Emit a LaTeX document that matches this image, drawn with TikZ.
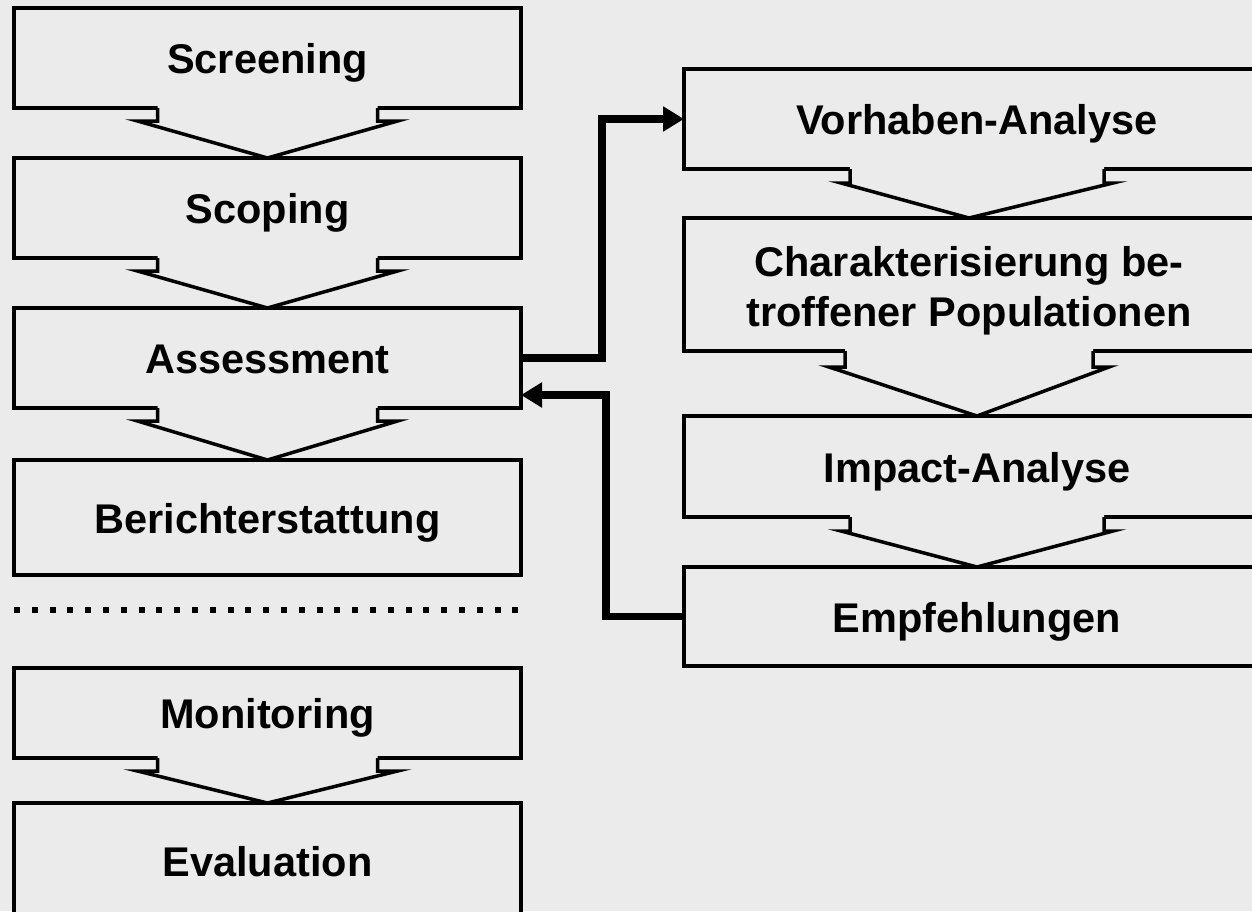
\documentclass[tikz,border=0pt]{standalone}
\usepackage{fontspec}
\setmainfont{Liberation Sans}
\usetikzlibrary{arrows.meta}
\definecolor{bgGray}{RGB}{235,235,235}

\tikzset{
  stage/.style={draw, line width=3.5pt, fill=bgGray, inner sep=0pt, outer sep=0pt,
    minimum width=507pt, minimum height=100pt,
    font=\fontsize{41.5}{50}\selectfont\bfseries, align=center},
  oneline/.style={text height=31pt, text depth=0pt},
  notch/.style={line width=3.5pt},
  flow/.style={line width=7.5pt, -{Triangle[length=21pt,width=24pt]}},
}

\begin{document}
\begin{tikzpicture}[x=1pt, y=-1pt]
  \fill [bgGray] (0,0) rectangle (1252,911);
  \useasboundingbox (0,0) rectangle (1252,911);

  % left column
  \node [stage, oneline] (screening) at (267.5, 58) {Screening};
  \node [stage, oneline] (scoping) at (267.5, 208) {Scoping};
  \node [stage, oneline] (assessment) at (267.5, 358) {Assessment};
  \node [stage, oneline, minimum height=115pt] (bericht) at (267.5, 517.5) {Berichterstattung};
  \node [stage, oneline, minimum height=90pt] (monitoring) at (267.5, 713) {Monitoring};
  \node [stage, oneline, minimum height=115pt] (evaluation) at (267.5, 860.5) {Evaluation};

  % right column
  \node [stage, oneline, minimum width=586pt] (vorhaben) at (977, 119) {Vorhaben-Analyse};
  \node [stage, minimum width=570pt, minimum height=133pt] (populationen) at (969, 284.5) {\rule{0pt}{43pt}Charakterisierung be-\\troffener Populationen};
  \node [stage, oneline, minimum width=586pt, minimum height=101pt] (impact) at (977, 466.5) {Impact-Analyse};
  \node [stage, oneline, minimum width=586pt, minimum height=99pt] (empfehlungen) at (977, 616.5) {Empfehlungen};

  % chevrons between the stages
  \foreach \a/\b/\i/\o/\d in {screening/scoping/110/130/13, scoping/assessment/110/130/13,
      assessment/bericht/110/130/13, monitoring/evaluation/110/130/13,
      vorhaben/populationen/127/136/14, populationen/impact/124/140/16,
      impact/empfehlungen/127/136/14} {
    \fill [bgGray] ([xshift=-\i, yshift=3]\a.south) -- ([xshift=-\i, yshift=-\d]\a.south)
      -- ([xshift=-\o, yshift=-\d]\a.south) -- ([yshift=2]\b.north)
      -- ([xshift=\o, yshift=-\d]\a.south) -- ([xshift=\i, yshift=-\d]\a.south)
      -- ([xshift=\i, yshift=3]\a.south) -- cycle;
    \draw [notch] ([xshift=-\i]\a.south) -- ([xshift=-\i, yshift=-\d]\a.south)
      -- ([xshift=-\o, yshift=-\d]\a.south) -- (\b.north)
      -- ([xshift=\o, yshift=-\d]\a.south) -- ([xshift=\i, yshift=-\d]\a.south)
      -- ([xshift=\i]\a.south);
  }

  % separator
  \coordinate (sepL) at (14, 610);
  \coordinate (sepR) at (521, 610);
  \draw [line width=6pt, dash pattern=on 6pt off 11.8pt] (sepL) -- (sepR);

  % feedback loop
  \draw [flow] (assessment.east) -- ++(81,0) |- (vorhaben.west);
  \draw [flow] (empfehlungen.west) -- ++(-78,0) |- ([yshift=-37]assessment.east);
\end{tikzpicture}
\end{document}
